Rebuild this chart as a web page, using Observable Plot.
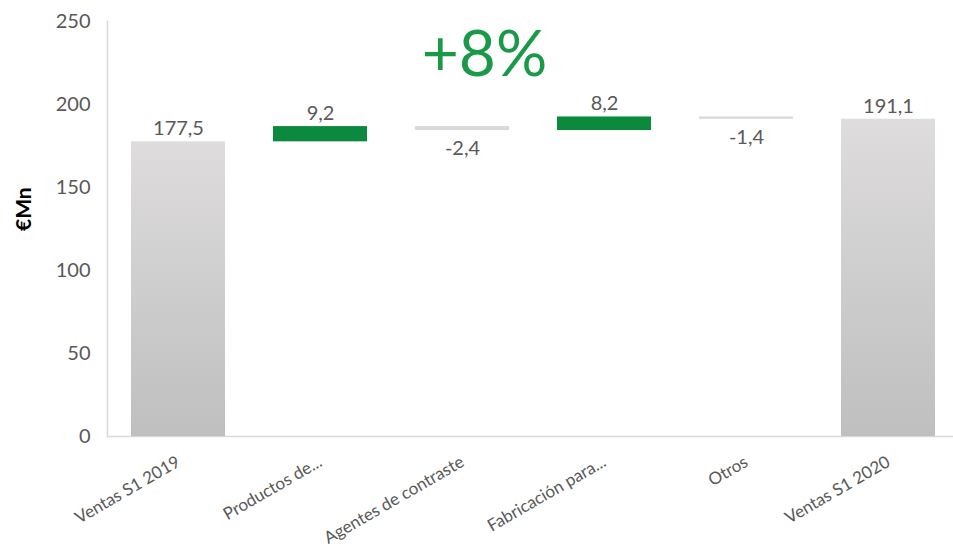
<!DOCTYPE html>
<html>
<head>
<meta charset="utf-8">
<script src="https://cdn.jsdelivr.net/npm/d3@7"></script>
<script src="https://cdn.jsdelivr.net/npm/@observablehq/plot@0.6"></script>
<style>
  html, body { margin: 0; padding: 0; background: #fff; }
  #chart svg { display: block; }
</style>
</head>
<body>
<div id="chart"></div>
<script>
const categorias = ["Ventas S1 2019", "Productos de...", "Agentes de contraste", "Fabricación para...", "Otros", "Ventas S1 2020"];
const valores = [177.5, 9.2, -2.4, 8.2, -1.4, 191.1];
const tipos = ["total", "delta", "delta", "delta", "delta", "total"];
const yTicks = [0, 50, 100, 150, 200, 250];

const es = d3.formatLocale({decimal: ",", thousands: ".", grouping: [3], currency: ["", "€"], minus: "-"});
const fmt = es.format(".1f");

let acc = 0;
const data = categorias.map((c, i) => {
  const v = valores[i];
  let y1, y2;
  if (tipos[i] === "total") { y1 = 0; y2 = v; acc = v; }
  else { y1 = acc; y2 = acc + v; acc = y2; }
  return {cat: c, v, tipo: tipos[i], y1, y2, top: Math.max(y1, y2), bottom: Math.min(y1, y2)};
});

const pct = Math.round((valores[5] / valores[0] - 1) * 100);
const pctLabel = (pct >= 0 ? "+" : "") + pct + "%";

const font = "Lato, 'Open Sans', sans-serif";
const green = "#0b8a3e";
const grayText = "#595959";

const chart = Plot.plot({
  width: 953,
  height: 550,
  marginLeft: 107,
  marginRight: 0,
  marginTop: 21,
  marginBottom: 114,
  style: {fontFamily: font, background: "#fff"},
  x: {domain: categorias, range: [107, 959], paddingInner: 0.34, paddingOuter: 0.17, label: null},
  y: {domain: [0, 250], label: null},
  marks: [
    Plot.frame({anchor: "left", stroke: "#d9d9d9", strokeWidth: 1.5}),
    Plot.ruleY([0], {stroke: "#d9d9d9", strokeWidth: 1.5}),
    Plot.barY(data.filter(d => d.tipo === "total"), {x: "cat", y1: "y1", y2: "y2", fill: "url(#gradTotal)"}),
    Plot.barY(data.filter(d => d.tipo === "delta" && d.v >= 0), {x: "cat", y1: "y1", y2: "y2", fill: green}),
    Plot.barY(data.filter(d => d.tipo === "delta" && d.v < 0), {x: "cat", y1: "y1", y2: "y2", fill: "#d9d9d9"}),
    Plot.text(data.filter(d => d.v >= 0), {x: "cat", y: "top", text: d => fmt(d.v), dy: -13, lineAnchor: "middle", fontSize: 20, fill: grayText}),
    Plot.text(data.filter(d => d.v < 0), {x: "cat", y: "bottom", text: d => fmt(d.v), dy: 18, lineAnchor: "middle", fontSize: 20, fill: grayText}),
    Plot.text([pctLabel], {frameAnchor: "top", text: d => d, dx: -46, dy: 34, lineAnchor: "middle", fontSize: 64, fill: "#1a9a48"}),
    Plot.text(["€Mn"], {frameAnchor: "left", text: d => d, rotate: -90, dx: -83, dy: 2, fontSize: 21, fontWeight: "bold", fill: "#000"}),
    Plot.axisY({ticks: yTicks, tickSize: 0, tickPadding: 17, fontSize: 20, fill: grayText, label: null}),
    Plot.axisX({tickRotate: -30, tickSize: 0, tickPadding: 24, fontSize: 17, fill: grayText, label: null})
  ]
});

const svg = d3.select(chart);
const defs = svg.insert("defs", ":first-child");
const g = defs.append("linearGradient").attr("id", "gradTotal").attr("x1", 0).attr("y1", 0).attr("x2", 0).attr("y2", 1);
g.append("stop").attr("offset", "0%").attr("stop-color", "#dedcdc");
g.append("stop").attr("offset", "100%").attr("stop-color", "#bfbfbf");

document.getElementById("chart").appendChild(chart);
</script>
</body>
</html>
